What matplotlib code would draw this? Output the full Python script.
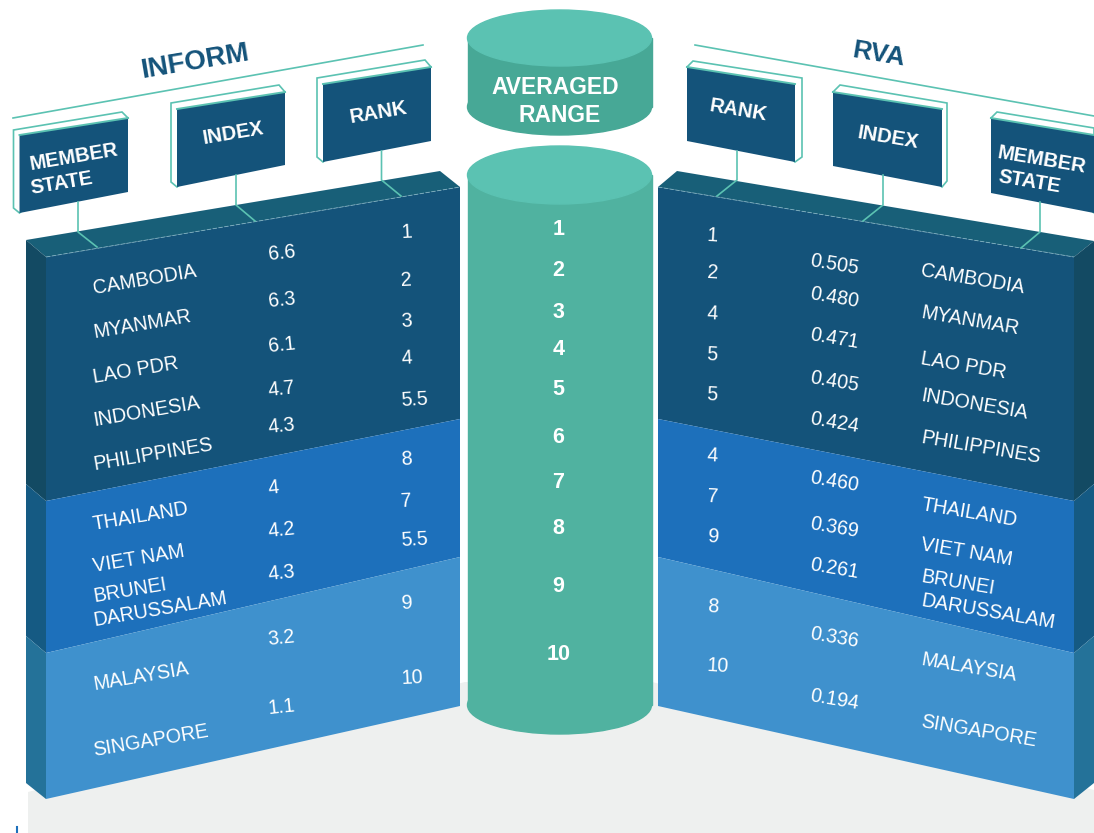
import matplotlib
matplotlib.use('Agg')
import matplotlib.pyplot as plt
from matplotlib.patches import Ellipse, Polygon, Rectangle

plt.rcParams['font.family'] = ['Liberation Sans', 'DejaVu Sans']

# The values
members = ['CAMBODIA', 'MYANMAR', 'LAO PDR', 'INDONESIA', 'PHILIPPINES',
           'THAILAND', 'VIET NAM', 'BRUNEI\nDARUSSALAM', 'MALAYSIA', 'SINGAPORE']
inform_index = ['6.6', '6.3', '6.1', '4.7', '4.3', '4', '4.2', '4.3', '3.2', '1.1']
inform_rank = ['1', '2', '3', '4', '5.5', '8', '7', '5.5', '9', '10']
rva_index = ['0.505', '0.480', '0.471', '0.405', '0.424', '0.460', '0.369', '0.261', '0.336', '0.194']
rva_rank = ['1', '2', '4', '5', '5', '4', '7', '9', '8', '10']
averaged_range = ['1', '2', '3', '4', '5', '6', '7', '8', '9', '10']

# Vertical placement of the rows, in picture pixels
left_name_y = [289, 333, 378, 421, 465, 525, 567, 597, 685, 751]
left_index_y = [255, 302, 347, 391, 428, 489, 532, 575, 640, 709]
left_rank_y = [233, 281, 322, 359, 401, 460, 502, 541, 604, 679]
right_name_y = [271, 313, 359, 396, 438, 505, 545, 577, 660, 722]
right_index_y = [261, 294, 335, 378, 419, 478, 524, 565, 634, 696]
right_rank_y = [236, 273, 314, 355, 395, 456, 497, 537, 607, 666]
center_y = [229, 271, 312, 349, 389, 437, 482, 528, 587, 654]

# Colours
DARK = '#14537a'
TOP = '#185f78'
DARK_SIDE = '#134a63'
MID = '#1d70bb'
MID_SIDE = '#155a83'
LIGHT = '#3f91cd'
LIGHT_SIDE = '#247299'
TEAL = '#5bc2b2'
TEAL_BODY = '#50b2a0'
TEAL_SMALL = '#47a896'
FLOOR = '#eef0ef'
TILT = 9.6

fig = plt.figure(figsize=(10.94, 8.33), dpi=100)
ax = fig.add_axes([0, 0, 1, 1])
ax.set_xlim(0, 1094)
ax.set_ylim(833, 0)
ax.axis('off')


def poly(points, color, z=2):
    ax.add_patch(Polygon(points, closed=True, facecolor=color, edgecolor='none', zorder=z))


def sheared_text(x, y, label, rot, size, weight='normal', step=24):
    # lines keep the same x, like the sheared type of the original
    for i, line in enumerate(label.split('\n')):
        ax.text(x, y + i * step, line, color='white', fontsize=size, fontweight=weight, ha='left', va='center',
                rotation=rot, rotation_mode='anchor', zorder=6)


def header_box(front, back, label, x, y, rot):
    ax.add_patch(Polygon(back, closed=True, facecolor='white', edgecolor=TEAL, lw=1.2, zorder=3))
    poly(front, DARK, z=4)
    ax.plot([front[0][0], front[1][0]], [front[0][1], front[1][1]], color=TEAL, lw=1.4, zorder=5)
    sheared_text(x, y, label, rot, 14.5, weight='bold')


def connector(x, y0, y1, x2, y2):
    ax.plot([x, x, x2], [y0, y1, y2], color=TEAL, lw=1.2, zorder=6)


def cylinder(cy_top, cy_bottom, rx, ry, body, top):
    cx = 559.5
    ax.add_patch(Ellipse((cx, cy_bottom), 2 * rx, 2 * ry, color=body, zorder=3))
    ax.add_patch(Rectangle((cx - rx, cy_top), 2 * rx, cy_bottom - cy_top, color=body, zorder=3))
    ax.add_patch(Ellipse((cx, cy_top), 2 * rx, 2 * ry, color=top, zorder=4))


# Floor behind everything
poly([(28, 792), (465, 682), (652, 682), (1094, 790), (1094, 833), (28, 833)], FLOOR, z=1)
ax.plot([17, 17], [827, 833], color=MID, lw=1.5, zorder=2)

# Left slab
poly([(26, 240), (440, 171), (460, 187), (46, 257)], TOP)
poly([(26, 240), (46, 257), (46, 501), (26, 484)], DARK_SIDE)
poly([(26, 484), (46, 501), (46, 653), (26, 636)], MID_SIDE)
poly([(26, 636), (46, 653), (46, 799), (26, 783)], LIGHT_SIDE)
poly([(46, 257), (460, 187), (460, 419), (46, 501)], DARK)
poly([(46, 501), (460, 419), (460, 557), (46, 653)], MID)
poly([(46, 653), (460, 557), (460, 706), (46, 799)], LIGHT)
ax.plot([46, 460], [257, 187], color='#7fb0c0', lw=0.6, ls=(0, (5, 2)), zorder=5)

# Right slab
poly([(658, 187), (677, 171), (1094, 241), (1074, 257)], TOP)
poly([(1074, 257), (1094, 241), (1094, 484), (1074, 501)], DARK_SIDE)
poly([(1074, 501), (1094, 484), (1094, 636), (1074, 653)], MID_SIDE)
poly([(1074, 653), (1094, 636), (1094, 783), (1074, 799)], LIGHT_SIDE)
poly([(658, 187), (1074, 257), (1074, 501), (658, 419)], DARK)
poly([(658, 419), (1074, 501), (1074, 653), (658, 557)], MID)
poly([(658, 557), (1074, 653), (1074, 799), (658, 706)], LIGHT)
ax.plot([658, 1074], [187, 257], color='#7fb0c0', lw=0.6, ls=(0, (5, 2)), zorder=5)

# Cylinders
cylinder(38, 107, 92, 28, TEAL_SMALL, TEAL)
cylinder(175, 705, 92, 29, TEAL_BODY, TEAL)
ax.text(555.5, 87, 'AVERAGED', color='white', fontsize=16.5, fontweight='bold', ha='center', va='center', zorder=6)
ax.text(559.5, 115, 'RANGE', color='white', fontsize=16.5, fontweight='bold', ha='center', va='center', zorder=6)
for label, y in zip(averaged_range, center_y):
    ax.text(558.5, y, label, color='white', fontsize=15.5, fontweight='bold', ha='center', va='center', zorder=6)

# Headers
ax.plot([13, 423], [118, 45], color=TEAL, lw=1.2, zorder=3)
ax.plot([695, 1094], [45, 116], color=TEAL, lw=1.2, zorder=3)
ax.text(195, 62, 'INFORM', color=DARK, fontsize=20, fontweight='bold', ha='center', va='center',
        rotation=TILT, rotation_mode='anchor', zorder=6)
ax.text(879, 55, 'RVA', color=DARK, fontsize=19, fontweight='bold', ha='center', va='center',
        rotation=-TILT, rotation_mode='anchor', zorder=6)

header_box([(19.5, 135), (128, 118), (128, 192), (19.5, 213)],
           [(13.5, 130), (122, 112), (128, 118), (19.5, 213), (13.5, 208)], 'MEMBER\nSTATE', 30, 165, TILT)
header_box([(177, 109), (285, 92), (285, 165), (177, 187)],
           [(171, 103), (279, 85), (285, 92), (177, 187), (171, 182)], 'INDEX', 203, 139, TILT)
header_box([(323, 84), (431, 67), (431, 141), (323, 162)],
           [(317, 78), (425, 60), (431, 67), (323, 162), (317, 157)], 'RANK', 350, 118, TILT)
header_box([(687, 67), (795, 84), (795, 162), (687, 141)],
           [(687, 67), (693, 61), (802, 78), (802, 157), (795, 162)], 'RANK', 710, 106, -TILT)
header_box([(833, 92), (942, 109), (942, 187), (833, 166)],
           [(833, 92), (840, 85), (947, 103), (947, 181), (942, 187)], 'INDEX', 858, 133, -TILT)
header_box([(991, 118), (1094, 135), (1094, 213), (991, 193)],
           [(991, 118), (997, 112), (1094, 128), (1094, 213)], 'MEMBER\nSTATE', 998, 153, -TILT)

connector(78, 202, 232, 97, 247)
connector(236, 175, 205, 255, 221)
connector(381.5, 151, 180, 401, 196)
connector(737, 151, 180, 717, 196)
connector(883, 175, 205, 863, 221)
connector(1040, 202, 232, 1021, 248)


def column(labels, x, ys, rot):
    for label, y in zip(labels, ys):
        sheared_text(x, y, label, rot, 14.1)


column(members, 93, left_name_y, TILT)
column(inform_index, 268, left_index_y, 6)
column(inform_rank, 401, left_rank_y, 3)
column(rva_rank, 707, right_rank_y, -3)
column(rva_index, 810, right_index_y, -TILT)
column(members, 921, right_name_y, -TILT)

plt.savefig('out.png', dpi=100)
